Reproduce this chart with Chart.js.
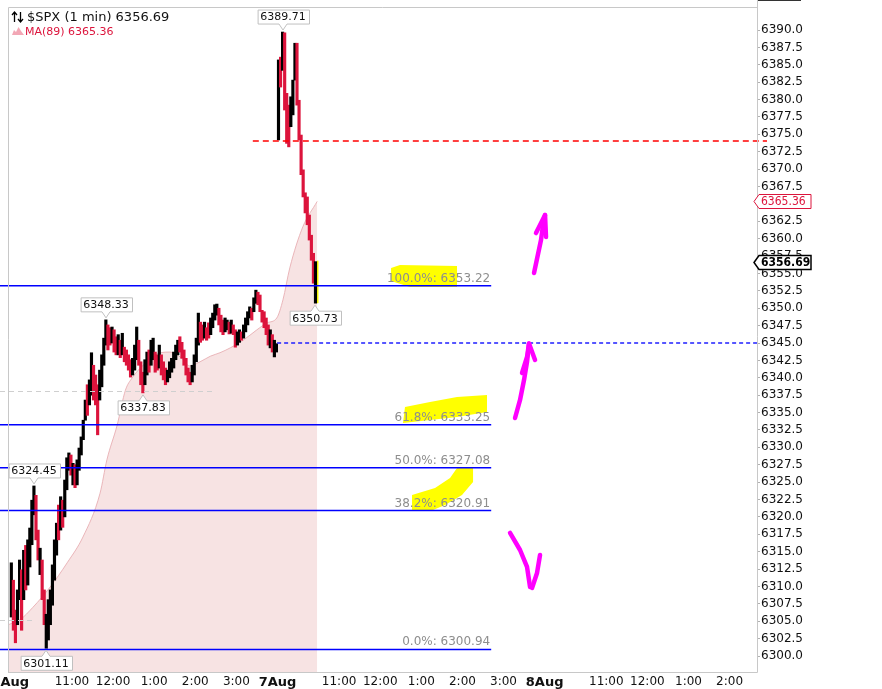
<!DOCTYPE html>
<html>
<head>
<meta charset="utf-8">
<title>$SPX (1 min)</title>
<script src="https://cdn.jsdelivr.net/npm/chart.js@4.4.1/dist/chart.umd.min.js"></script>
<style>
  html, body { margin: 0; padding: 0; background: #fff; }
  canvas { display: block; }
</style>
</head>
<body>
<canvas id="spx" width="882" height="689"></canvas>
<script>
// 3-minute high/low summary of the 1 min bars
// bars 0..129 = 6 Aug session, 130.. = 7 Aug open
const barLows = [
  6305.6, 6303.7, 6301.9, 6304.5, 6308.1, 6303.7, 6308.1, 6309.5, 6310.2, 6312.8,
  6316.0, 6320.3, 6316.7, 6313.8, 6311.7, 6308.1, 6304.5, 6301.11, 6302.3, 6304.5,
  6307.3, 6310.9, 6314.5, 6316.7, 6318.1, 6318.5, 6320.0, 6323.9, 6326.7, 6326.0,
  6324.6, 6324.2, 6324.6, 6326.7, 6328.9, 6331.1, 6333.9, 6334.6, 6336.1, 6337.5,
  6336.8, 6336.1, 6331.8, 6336.8, 6338.7, 6341.8, 6344.7, 6344.0, 6344.7, 6345.0,
  6343.7, 6343.3, 6343.3, 6342.9, 6343.3, 6342.3, 6341.8, 6341.1, 6340.1, 6340.4,
  6341.1, 6342.6, 6341.8, 6339.0, 6337.83, 6339.0, 6340.4, 6340.8, 6341.8, 6342.6,
  6340.8, 6341.1, 6341.4, 6340.4, 6339.7, 6339.0, 6339.4, 6340.0, 6340.8, 6341.4,
  6342.6, 6343.3, 6343.7, 6342.8, 6341.8, 6340.4, 6339.4, 6339.0, 6339.4, 6340.4,
  6342.3, 6344.7, 6345.1, 6345.4, 6345.7, 6345.4, 6345.7, 6346.2, 6347.2, 6348.3,
  6349.0, 6347.6, 6346.6, 6346.2, 6346.6, 6346.9, 6346.3, 6346.4, 6346.2, 6344.4,
  6344.7, 6345.1, 6345.4, 6345.7, 6346.6, 6347.6, 6348.6, 6348.3, 6349.5, 6350.7,
  6350.5, 6349.5, 6348.0, 6347.2, 6346.2, 6344.7, 6344.3, 6343.7, 6343.0, 6343.7,
  6374.2, 6381.8, 6384.2, 6378.5, 6373.7, 6373.2, 6376.1, 6377.8, 6382.8, 6379.2,
  6374.2, 6369.2, 6366.0, 6363.7, 6362.0, 6359.8, 6356.9, 6353.6, 6350.73
];
const barHighs = [
  6313.4, 6310.9, 6306.6, 6309.5, 6313.8, 6312.4, 6315.2, 6315.9, 6316.7, 6318.4,
  6322.4, 6324.45, 6323.1, 6318.1, 6315.5, 6313.8, 6309.5, 6306.0, 6308.1, 6309.5,
  6313.1, 6316.7, 6319.1, 6321.7, 6322.9, 6322.4, 6325.3, 6328.5, 6329.2, 6328.9,
  6327.7, 6327.5, 6328.2, 6329.9, 6331.5, 6333.9, 6336.8, 6339.0, 6339.7, 6343.6,
  6341.8, 6340.4, 6339.0, 6341.1, 6343.3, 6345.7, 6348.33, 6347.6, 6347.2, 6347.3,
  6346.9, 6345.9, 6346.2, 6345.4, 6346.4, 6344.4, 6344.0, 6343.3, 6342.6, 6342.8,
  6344.7, 6347.3, 6345.4, 6342.3, 6340.8, 6342.6, 6343.7, 6344.0, 6345.4, 6345.7,
  6343.7, 6343.3, 6344.7, 6343.3, 6342.3, 6341.4, 6341.1, 6342.3, 6342.8, 6343.7,
  6344.7, 6345.4, 6345.9, 6345.1, 6344.0, 6342.8, 6341.4, 6340.8, 6341.8, 6343.3,
  6345.7, 6349.3, 6348.0, 6347.6, 6348.0, 6347.2, 6347.9, 6348.6, 6349.3, 6350.5,
  6350.6, 6350.0, 6349.0, 6348.3, 6348.6, 6348.3, 6348.0, 6348.3, 6347.6, 6346.9,
  6346.6, 6346.9, 6346.6, 6347.6, 6348.6, 6349.5, 6350.2, 6350.0, 6351.5, 6352.6,
  6352.3, 6351.9, 6349.7, 6349.5, 6348.6, 6347.6, 6346.9, 6346.2, 6345.4, 6344.9,
  6385.7, 6386.1, 6389.71, 6389.6, 6380.9, 6379.2, 6380.4, 6382.8, 6388.1, 6388.1,
  6379.9, 6374.9, 6369.9, 6366.6, 6366.0, 6363.4, 6360.5, 6357.9, 6356.7
];
// 1 = up bar (black), 0 = down bar (red)
const barUp = [
  1, 0, 0, 1, 1, 0, 1, 0, 1, 1,  1, 1, 0, 0, 1, 0, 0, 1, 1, 1,
  1, 1, 1, 0, 1, 0, 1, 1, 1, 0,  1, 0, 1, 1, 1, 1, 1, 0, 1, 1,
  0, 0, 0, 1, 1, 1, 1, 0, 0, 1,  0, 0, 1, 0, 1, 0, 0, 0, 0, 1,
  1, 1, 0, 0, 0, 1, 1, 0, 1, 1,  0, 0, 1, 0, 0, 0, 1, 1, 1, 1,
  1, 1, 0, 0, 0, 0, 0, 0, 1, 1,  1, 1, 0, 0, 1, 0, 0, 1, 1, 1,
  1, 0, 0, 0, 1, 1, 0, 1, 0, 0,  1, 1, 0, 1, 1, 1, 1, 0, 1, 1,
  0, 0, 0, 0, 0, 0, 1, 0, 1, 1,
  1, 0, 1, 0, 0, 0, 1, 1, 1, 0,  0, 0, 0, 0, 0, 0, 0, 0, 1
];
// trading minute of each bar (6 Aug 9:30 = 0, 7 Aug 9:30 = 390)
const barTimes = barLows.map((_, i) => (i < 130 ? i * 3 : 390 + (i - 130) * 3) + 1.5);

// MA(89) curve
const maTimes = [-3, 14, 33, 58, 83, 106, 131, 141, 156, 168, 178, 194, 219, 233,
  248, 262, 277, 292, 306, 321, 340, 360, 375, 389, 398, 408, 427, 448];
const maValues = [6304.5, 6305.2, 6307.0, 6309.9, 6313.4, 6317.1, 6323.4, 6328.2,
  6333.2, 6338.2, 6340.0, 6341.8, 6343.6, 6343.7, 6343.0, 6341.7, 6342.3, 6343.1,
  6343.6, 6344.3, 6345.4, 6346.9, 6347.9, 6348.6, 6351.2, 6355.8, 6361.7, 6365.36];

const lastClose = 6356.69;
const maLast = 6365.36;

// fibonacci retracement
const fibLabels = ['100.0%', '61.8%', '50.0%', '38.2%', '0.0%'];
const fibValues = [6353.22, 6333.25, 6327.08, 6320.91, 6300.94];
const fibEnd = 702;

// price callouts (bar index + which end)
const calloutBars = [132, 46, 11, 64, 148, 17];
const calloutSides = ['high', 'high', 'high', 'low', 'low', 'low'];

// horizontal reference lines
const grayDashValues = [6338.1, 6305.2];
const grayDashEnds = [299, 32];
const redDashValue = 6374.0, redDashStart = 354;
const blueDashValue = 6345.0, blueDashStart = 389.5;

// axis ticks
const xTickTimes = [0, 90, 150, 210, 270, 330, 390, 480, 540, 600, 660, 720, 780, 870, 930, 990, 1050];
const xTickLabels = ['6Aug', '11:00', '12:00', '1:00', '2:00', '3:00', '7Aug', '11:00', '12:00',
  '1:00', '2:00', '3:00', '8Aug', '11:00', '12:00', '1:00', '2:00'];
const yTickTop = 6390;

// hand-drawn marks (minute, price)
const yellowMarks = [
  [[555.8, 6355.78], [568.9, 6356.21], [652.1, 6356.07], [652.1, 6353.05], [583.5, 6353.05], [555.8, 6353.91]],
  [[576.2, 6335.80], [612.7, 6336.52], [652.1, 6337.24], [695.9, 6337.53], [695.9, 6335.08], [652.1, 6334.36], [612.7, 6333.93], [573.3, 6333.50]],
  [[586.4, 6320.99], [586.4, 6323.15], [620.0, 6324.15], [641.9, 6325.59], [652.1, 6327.03], [675.5, 6327.18], [675.5, 6325.02], [659.4, 6323.15], [634.6, 6321.71], [617.1, 6320.99]]
];
const magentaStrokes = [
  [[764.5, 6355.06], [774.7, 6359.81], [777.7, 6361.96], [780.6, 6363.40]],
  [[767.4, 6360.81], [780.6, 6363.40], [782.0, 6360.24]],
  [[736.8, 6334.22], [744.1, 6336.81], [749.9, 6339.68], [754.3, 6342.27], [757.2, 6344.92]],
  [[747.0, 6340.69], [754.3, 6342.99], [757.2, 6344.92], [766.0, 6342.56]],
  [[729.5, 6317.69], [744.1, 6315.24], [754.3, 6312.80], [758.7, 6309.93]],
  [[773.3, 6314.53], [768.9, 6311.94], [761.6, 6309.78]]
];

const RED = '#dc143c';
const FONT = '"DejaVu Sans", sans-serif';

Chart.defaults.font.family = FONT;

function callout(ctx, x, y, text, below) {
  ctx.font = '11px ' + FONT;
  const w = Math.round(ctx.measureText(text).width) + 6;
  const h = 14;
  const tip = below ? y + 2 : y - 2;
  const base = below ? tip + 6 : tip - 6;
  const l = Math.round(x - w / 2) + 0.5, r = l + w;
  ctx.beginPath();
  if (below) {
    ctx.moveTo(l, base); ctx.lineTo(x - 4, base); ctx.lineTo(x, tip); ctx.lineTo(x + 4, base);
    ctx.lineTo(r, base); ctx.lineTo(r, base + h); ctx.lineTo(l, base + h);
  } else {
    ctx.moveTo(l, base - h); ctx.lineTo(r, base - h); ctx.lineTo(r, base);
    ctx.lineTo(x + 4, base); ctx.lineTo(x, tip); ctx.lineTo(x - 4, base); ctx.lineTo(l, base);
  }
  ctx.closePath();
  ctx.fillStyle = '#fff';
  ctx.fill();
  ctx.strokeStyle = '#c0c0c0';
  ctx.lineWidth = 1;
  ctx.stroke();
  ctx.fillStyle = '#111';
  ctx.textAlign = 'center';
  ctx.textBaseline = 'middle';
  ctx.fillText(text, x, (below ? base + h / 2 : base - h / 2) + 0.5);
}

function priceTag(ctx, x, y, text, color, bold) {
  ctx.font = (bold ? 'bold 12px ' : '12px ') + '"DejaVu Sans Condensed", ' + FONT;
  const w = 54, h = 14;
  const top = Math.round(y - h / 2) + 0.5;
  ctx.beginPath();
  ctx.moveTo(x - 3, top + h / 2);
  ctx.lineTo(x + 2, top);
  ctx.lineTo(x + w, top);
  ctx.lineTo(x + w, top + h);
  ctx.lineTo(x + 2, top + h);
  ctx.closePath();
  ctx.fillStyle = '#fff';
  ctx.fill();
  ctx.strokeStyle = color;
  ctx.lineWidth = bold ? 1.5 : 1;
  ctx.stroke();
  ctx.fillStyle = color;
  ctx.textAlign = 'left';
  ctx.textBaseline = 'middle';
  ctx.fillText(text, x + 4, top + h / 2 + 0.5);
}

const overlay = {
  id: 'overlay',
  beforeDatasetsDraw(chart) {
    // highlighter over the last bar
    const {ctx, scales: {x, y}} = chart;
    const i = barTimes.length - 1;
    const top = y.getPixelForValue(barHighs[i]) - 1;
    const bot = y.getPixelForValue(barLows[i]);
    ctx.save();
    ctx.fillStyle = '#ffff00';
    ctx.fillRect(x.getPixelForValue(barTimes[i]) - 3, top, 6, bot - top);
    ctx.restore();
  },
  afterDatasetsDraw(chart) {
    const {ctx, chartArea, scales: {x, y}} = chart;
    const X = v => x.getPixelForValue(v);
    const Y = v => Math.round(y.getPixelForValue(v));
    ctx.save();

    // gray dashed reference lines
    ctx.setLineDash([5, 4]);
    ctx.strokeStyle = '#cfcfcf';
    ctx.lineWidth = 1;
    grayDashValues.forEach((v, i) => {
      ctx.beginPath();
      ctx.moveTo(0, Y(v) + 0.5);
      ctx.lineTo(X(grayDashEnds[i]), Y(v) + 0.5);
      ctx.stroke();
    });

    // red dashed level
    ctx.setLineDash([6, 4]);
    ctx.strokeStyle = '#ff0000';
    ctx.lineWidth = 1.6;
    ctx.beginPath();
    ctx.moveTo(X(redDashStart), Y(redDashValue));
    ctx.lineTo(chartArea.right + 10, Y(redDashValue));
    ctx.stroke();

    // blue dashed level
    ctx.setLineDash([4, 3]);
    ctx.strokeStyle = '#1f1fff';
    ctx.lineWidth = 1.4;
    ctx.beginPath();
    ctx.moveTo(X(blueDashStart), Y(blueDashValue));
    ctx.lineTo(chartArea.right, Y(blueDashValue));
    ctx.stroke();
    ctx.setLineDash([]);

    // highlighter marks
    ctx.fillStyle = '#ffff00';
    yellowMarks.forEach(pts => {
      ctx.beginPath();
      pts.forEach((p, i) => i ? ctx.lineTo(X(p[0]), y.getPixelForValue(p[1])) : ctx.moveTo(X(p[0]), y.getPixelForValue(p[1])));
      ctx.closePath();
      ctx.fill();
    });

    // fibonacci lines + labels
    ctx.strokeStyle = '#0000ff';
    ctx.lineWidth = 1.5;
    ctx.font = '12px ' + FONT;
    ctx.textAlign = 'right';
    ctx.textBaseline = 'alphabetic';
    fibValues.forEach((v, i) => {
      const py = y.getPixelForValue(v);
      ctx.beginPath();
      ctx.moveTo(0, py);
      ctx.lineTo(X(fibEnd), py);
      ctx.stroke();
      ctx.fillStyle = '#8e8e8e';
      ctx.fillText(fibLabels[i] + ': ' + v.toFixed(2), X(fibEnd) - 1, py - 4);
    });

    // pen arrows
    ctx.strokeStyle = '#ff00ff';
    ctx.lineWidth = 4.5;
    ctx.lineCap = 'round';
    ctx.lineJoin = 'round';
    magentaStrokes.forEach(pts => {
      ctx.beginPath();
      pts.forEach((p, i) => i ? ctx.lineTo(X(p[0]), y.getPixelForValue(p[1])) : ctx.moveTo(X(p[0]), y.getPixelForValue(p[1])));
      ctx.stroke();
    });

    // high / low callouts
    calloutBars.forEach((b, i) => {
      const low = calloutSides[i] === 'low';
      const v = low ? barLows[b] : barHighs[b];
      callout(ctx, Math.round(X(barTimes[b])), y.getPixelForValue(v), v.toFixed(2), low);
    });
    ctx.restore();
  },
  afterDraw(chart) {
    const {ctx, chartArea, scales: {y}} = chart;
    const {left, right, top, bottom} = chartArea;
    ctx.save();

    // frame
    ctx.strokeStyle = '#c8c8c8';
    ctx.lineWidth = 1;
    ctx.beginPath();
    ctx.moveTo(left + 0.5, bottom); ctx.lineTo(left + 0.5, top + 0.5); ctx.lineTo(right, top + 0.5);
    ctx.moveTo(right + 0.5, 0); ctx.lineTo(right + 0.5, bottom + 0.5); ctx.lineTo(left, bottom + 0.5);
    ctx.stroke();
    ctx.strokeStyle = '#333';
    ctx.beginPath();
    ctx.moveTo(right + 1, 0.5); ctx.lineTo(right + 44, 0.5);
    ctx.stroke();

    // right-axis value tags
    priceTag(ctx, right, y.getPixelForValue(maLast), maLast.toFixed(2), RED, false);
    priceTag(ctx, right, y.getPixelForValue(lastClose), lastClose.toFixed(2), '#000', true);

    // legend
    ctx.strokeStyle = '#000';
    ctx.fillStyle = '#000';
    ctx.lineWidth = 1.3;
    ctx.beginPath();
    ctx.moveTo(14.5, 22); ctx.lineTo(14.5, 12); ctx.moveTo(12, 15); ctx.lineTo(14.5, 12); ctx.lineTo(17, 15);
    ctx.moveTo(20.5, 12); ctx.lineTo(20.5, 22); ctx.moveTo(18, 19); ctx.lineTo(20.5, 22); ctx.lineTo(23, 19);
    ctx.stroke();
    ctx.font = '13px ' + FONT;
    ctx.textAlign = 'left';
    ctx.textBaseline = 'alphabetic';
    ctx.fillStyle = '#111';
    ctx.fillText('$SPX (1 min) ' + lastClose.toFixed(2), 27, 21);

    ctx.fillStyle = '#f2a7b5';
    ctx.beginPath();
    ctx.moveTo(12, 35); ctx.lineTo(14, 30); ctx.lineTo(16, 32); ctx.lineTo(18.5, 27);
    ctx.lineTo(21, 31); ctx.lineTo(24, 35); ctx.closePath();
    ctx.fill();
    ctx.font = '11px ' + FONT;
    ctx.fillStyle = RED;
    ctx.fillText('MA(89) ' + maLast.toFixed(2), 25, 35);
    ctx.restore();
  }
};

const ctx = document.getElementById('spx').getContext('2d');
new Chart(ctx, {
  type: 'bar',
  data: {
    datasets: [
      {
        type: 'line',
        label: 'MA(89)',
        data: maTimes.map((t, i) => ({x: t, y: maValues[i]})),
        borderColor: 'rgba(232,175,180,0.9)',
        borderWidth: 1,
        backgroundColor: '#f7e3e3',
        fill: 'start',
        pointRadius: 0,
        cubicInterpolationMode: 'monotone',
        order: 2
      },
      {
        type: 'bar',
        label: '$SPX',
        data: barTimes.map((t, i) => ({x: t, y: [barLows[i], barHighs[i]]})),
        backgroundColor: barUp.map(u => (u ? '#000' : RED)),
        barThickness: 2.5,
        borderWidth: 0,
        order: 1
      }
    ]
  },
  options: {
    responsive: false,
    animation: false,
    events: [],
    layout: { padding: { left: 8, top: 7, right: 0, bottom: 0 } },
    plugins: { legend: { display: false }, tooltip: { enabled: false } },
    scales: {
      x: {
        type: 'linear',
        min: -3.36,
        max: 1090,
        offset: false,
        grid: { display: false, offset: false, drawTicks: false },
        border: { display: false },
        afterBuildTicks: s => { s.ticks = xTickTimes.map(v => ({value: v})); },
        afterFit: s => { s.height = 17; s.paddingLeft = 0; s.paddingRight = 0; },
        ticks: {
          autoSkip: false,
          maxRotation: 0,
          minRotation: 0,
          padding: 3,
          color: '#111',
          font: c => {
            const day = /Aug/.test(xTickLabels[c.index] || '');
            return { family: FONT, size: day ? 13 : 12, weight: day ? 'bold' : 'normal' };
          },
          callback: (v) => xTickLabels[xTickTimes.indexOf(v)]
        }
      },
      y: {
        position: 'right',
        min: 6297.70,
        max: 6393.31,
        beginAtZero: false,
        grid: { display: true, drawOnChartArea: false, drawTicks: true, tickLength: 3, color: '#b0b0b0' },
        border: { display: false },
        afterBuildTicks: s => { s.ticks = s.ticks.filter(t => t.value <= yTickTop); },
        afterFit: s => { s.width = 125; s.paddingTop = 0; s.paddingBottom = 0; },
        ticks: {
          stepSize: 2.5,
          includeBounds: false,
          padding: 1,
          color: '#111',
          font: { size: 12 },
          callback: v => v.toFixed(1)
        }
      }
    }
  },
  plugins: [overlay]
});
</script>
</body>
</html>
